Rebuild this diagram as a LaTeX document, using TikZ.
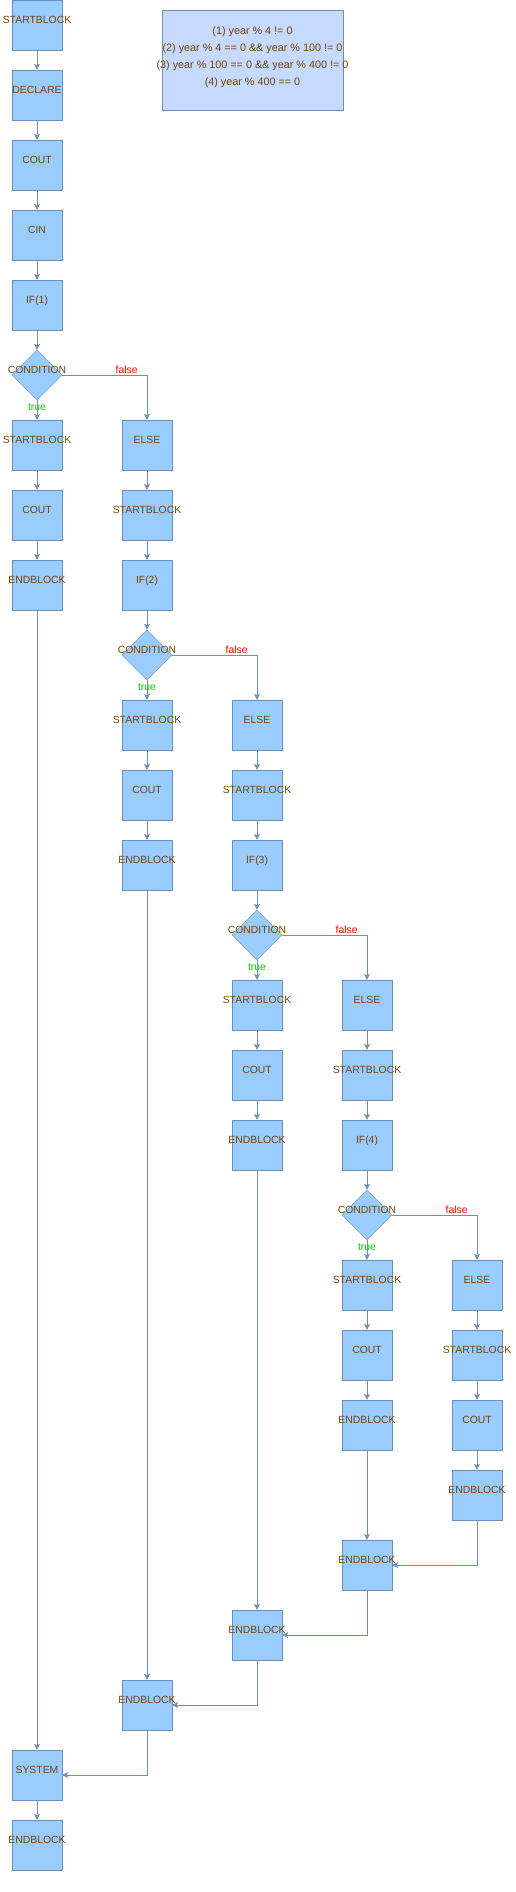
\documentclass[tikz,border=0pt]{standalone}
\usepackage{fontspec}
\setmainfont{Liberation Sans}
\usetikzlibrary{shapes.geometric,arrows.meta}
\definecolor{boxC}{HTML}{99CCFF}
\definecolor{lineC}{HTML}{6C8EBF}
\definecolor{txtC}{HTML}{774400}
\definecolor{legC}{HTML}{C6D9FF}
\definecolor{trueC}{HTML}{00CC00}
\definecolor{falseC}{HTML}{FF0000}
\newcommand{\zt}[1]{\makebox[0pt]{#1}}
\tikzset{
  blk/.style={draw=lineC, fill=boxC, rectangle, minimum width=50pt, minimum height=50pt, inner sep=0pt,
    text=txtC, font=\fontsize{10.4}{12}\selectfont, text height=0pt, text depth=2.8pt},
  cond/.style={blk, diamond, aspect=1},
  legend/.style={draw=lineC, fill=legC, rectangle, minimum width=181pt, minimum height=100pt, inner sep=0pt,
    text=txtC, font=\fontsize{10.8}{17}\selectfont, align=center, text depth=8.1pt},
  flow/.style={draw=lineC, line width=0.8pt, -{Stealth[length=6pt,width=6pt,inset=1.5pt]}},
  tlab/.style={text=trueC, font=\fontsize{10.4}{12}\selectfont, inner sep=0pt, anchor=base},
  flab/.style={text=falseC, font=\fontsize{10.4}{12}\selectfont, inner sep=0pt, anchor=base},
}
\begin{document}
\begin{tikzpicture}[x=1pt,y=-1pt]
\useasboundingbox (0,0) rectangle (516,1892);
% legend
\node[legend] (leg) at (252.5,60) {\zt{(1) year \% 4 != 0}\\\zt{(2) year \% 4 == 0 \&\& year \% 100 != 0}\\\zt{(3) year \% 100 == 0 \&\& year \% 400 != 0}\\\zt{(4) year \% 400 == 0}};
% column 0
\node[blk] (a0) at (37,25) {\zt{STARTBLOCK}};
\node[blk] (a1) at (37,95) {\zt{DECLARE}};
\node[blk] (a2) at (37,165) {\zt{COUT}};
\node[blk] (a3) at (37,235) {\zt{CIN}};
\node[blk] (a4) at (37,305) {\zt{IF(1)}};
\node[cond] (a5) at (37,375) {\zt{CONDITION}};
\node[blk] (a6) at (37,445) {\zt{STARTBLOCK}};
\node[blk] (a7) at (37,515) {\zt{COUT}};
\node[blk] (a8) at (37,585) {\zt{ENDBLOCK}};
\node[blk] (sys) at (37,1775) {\zt{SYSTEM}};
\node[blk] (fin) at (37,1845) {\zt{ENDBLOCK}};
% column 1
\node[blk] (b0) at (147,445) {\zt{ELSE}};
\node[blk] (b1) at (147,515) {\zt{STARTBLOCK}};
\node[blk] (b2) at (147,585) {\zt{IF(2)}};
\node[cond] (b3) at (147,655) {\zt{CONDITION}};
\node[blk] (b4) at (147,725) {\zt{STARTBLOCK}};
\node[blk] (b5) at (147,795) {\zt{COUT}};
\node[blk] (b6) at (147,865) {\zt{ENDBLOCK}};
\node[blk] (m1) at (147,1705) {\zt{ENDBLOCK}};
% column 2
\node[blk] (c0) at (257,725) {\zt{ELSE}};
\node[blk] (c1) at (257,795) {\zt{STARTBLOCK}};
\node[blk] (c2) at (257,865) {\zt{IF(3)}};
\node[cond] (c3) at (257,935) {\zt{CONDITION}};
\node[blk] (c4) at (257,1005) {\zt{STARTBLOCK}};
\node[blk] (c5) at (257,1075) {\zt{COUT}};
\node[blk] (c6) at (257,1145) {\zt{ENDBLOCK}};
\node[blk] (m2) at (257,1635) {\zt{ENDBLOCK}};
% column 3
\node[blk] (d0) at (367,1005) {\zt{ELSE}};
\node[blk] (d1) at (367,1075) {\zt{STARTBLOCK}};
\node[blk] (d2) at (367,1145) {\zt{IF(4)}};
\node[cond] (d3) at (367,1215) {\zt{CONDITION}};
\node[blk] (d4) at (367,1285) {\zt{STARTBLOCK}};
\node[blk] (d5) at (367,1355) {\zt{COUT}};
\node[blk] (d6) at (367,1425) {\zt{ENDBLOCK}};
\node[blk] (m3) at (367,1565) {\zt{ENDBLOCK}};
% column 4
\node[blk] (e0) at (477,1285) {\zt{ELSE}};
\node[blk] (e1) at (477,1355) {\zt{STARTBLOCK}};
\node[blk] (e2) at (477,1425) {\zt{COUT}};
\node[blk] (e3) at (477,1495) {\zt{ENDBLOCK}};
% sequential edges
\foreach \u/\v in {a0/a1,a1/a2,a2/a3,a3/a4,a4/a5,a5/a6,a6/a7,a7/a8,a8/sys,sys/fin,
  b0/b1,b1/b2,b2/b3,b3/b4,b4/b5,b5/b6,b6/m1,
  c0/c1,c1/c2,c2/c3,c3/c4,c4/c5,c5/c6,c6/m2,
  d0/d1,d1/d2,d2/d3,d3/d4,d4/d5,d5/d6,d6/m3,
  e0/e1,e1/e2,e2/e3}
  \draw[flow] (\u.south) -- (\v.north);
% false branches
\draw[flow] (a5.east) -| (b0.north);
\draw[flow] (b3.east) -| (c0.north);
\draw[flow] (c3.east) -| (d0.north);
\draw[flow] (d3.east) -| (e0.north);
% merges
\draw[flow] (e3.south) |- (m3.east);
\draw[flow] (m3.south) |- (m2.east);
\draw[flow] (m2.south) |- (m1.east);
\draw[flow] (m1.south) |- (sys.east);
% labels
\foreach \n/\x/\y in {a5/37/375,b3/147/655,c3/257/935,d3/367/1215}{
  \node[tlab] (t\n) at (\x,\y+35) {true};
  \node[flab] (f\n) at (\x+89.7,\y-1.5) {false};
}
\end{tikzpicture}
\end{document}
